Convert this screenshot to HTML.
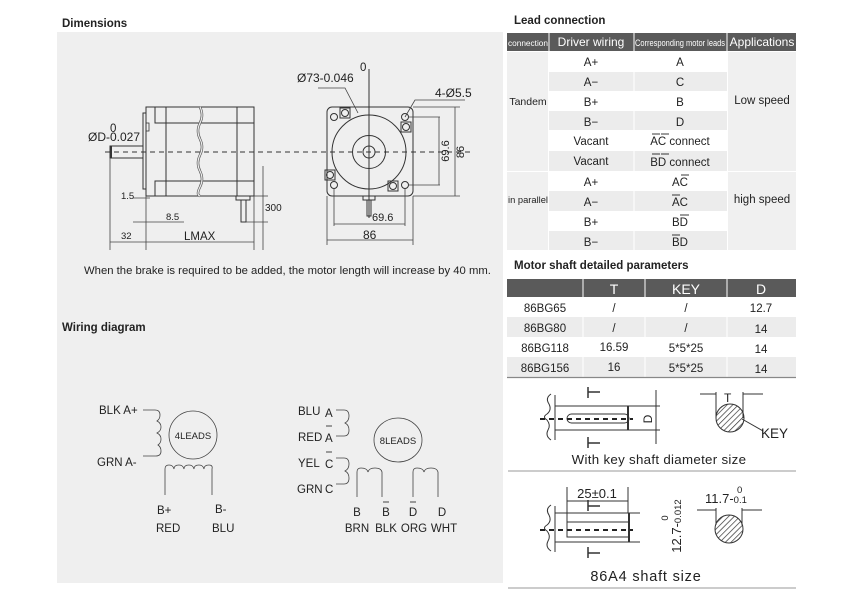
<!DOCTYPE html>
<html><head><meta charset="utf-8"><style>
html,body{margin:0;padding:0;background:#fff;width:864px;height:598px;overflow:hidden}
svg{display:block}
text{font-family:"Liberation Sans",sans-serif;fill:#222}
.b{font-weight:bold}
.l{stroke:#333;stroke-width:1;fill:none}
.t{stroke:#444;stroke-width:0.8;fill:none}
</style></head><body>
<svg width="864" height="598" viewBox="0 0 864 598" xmlns="http://www.w3.org/2000/svg">
<defs>
<pattern id="h" width="4" height="4" patternUnits="userSpaceOnUse" patternTransform="rotate(45)"><line x1="0" y1="0" x2="0" y2="4" stroke="#333" stroke-width="1.4"/></pattern>
</defs>
<rect x="57" y="32" width="446" height="551" fill="#efefef"/>
<text x="62" y="27" font-size="11.5" class="b">Dimensions</text>
<text x="62" y="331" font-size="11.5" class="b">Wiring diagram</text>
<text x="84" y="274" font-size="11.3">When the brake is required to be added, the motor length will increase by 40 mm.</text>

<g class="l">
<rect x="146" y="107" width="108" height="89"/>
<rect x="143" y="113" width="3" height="76"/>
<rect x="110" y="146" width="33" height="12"/>
<line x1="111" y1="146" x2="111" y2="158" stroke-width="2"/>
<path d="M155 107V123H254M155 196V181H254"/>
<line x1="166" y1="107" x2="166" y2="196"/>
<line x1="237" y1="107" x2="237" y2="196"/>
<path d="M200 107 q4 8 0 16 q-4 8 0 16 q4 8 0 16 q-4 8 0 16 q4 8 0 16 q-4 8 0 9" stroke-width="2.5" stroke="#555"/>
<path d="M200 107 q4 8 0 16 q-4 8 0 16 q4 8 0 16 q-4 8 0 16 q4 8 0 16 q-4 8 0 9" stroke-width="1.2" stroke="#efefef"/>
<rect x="146" y="123" width="3" height="8" stroke-width="0.8"/>
<rect x="236" y="196" width="14" height="4"/>
<rect x="241" y="200" width="5" height="22"/>
<line x1="110" y1="158" x2="110" y2="250" class="t"/>
<line x1="146" y1="196" x2="146" y2="250" class="t"/>
<line x1="254" y1="196" x2="254" y2="250" class="t"/>
<line x1="110" y1="242" x2="254" y2="242" class="t"/>
<line x1="263" y1="166" x2="263" y2="250" class="t"/>
<line x1="246" y1="222" x2="268" y2="222" class="t"/>
<line x1="254" y1="196" x2="268" y2="196" class="t"/>
<line x1="133" y1="198" x2="150" y2="198" class="t"/>
<line x1="133" y1="222" x2="184" y2="222" class="t"/>
</g>
<text x="121" y="199" font-size="9.5">1.5</text>
<text x="166" y="220" font-size="9.5">8.5</text>
<text x="265" y="211" font-size="10">300</text>
<text x="121" y="239" font-size="9.5">32</text>
<text x="184" y="240" font-size="11.5">LMAX</text>
<text x="110" y="132" font-size="11.5">0</text>
<text x="88" y="141" font-size="12">ØD-0.027</text>
<line x1="105" y1="152" x2="470" y2="152" stroke="#333" stroke-dasharray="5,4"/>

<g class="l">
<rect x="327" y="107" width="86" height="89" rx="5"/>
<circle cx="369" cy="152" r="37"/>
<circle cx="369" cy="152" r="16.5"/>
<circle cx="369" cy="152" r="6"/>
<line x1="369" y1="69" x2="369" y2="218"/>
<circle cx="334" cy="117" r="3.5"/><circle cx="405" cy="117" r="3.5"/>
<circle cx="334" cy="185" r="3.5"/><circle cx="405" cy="185" r="3.5"/>
<rect x="340" y="108" width="10" height="10"/><circle cx="345" cy="113" r="3.5"/>
<rect x="401" y="122" width="10" height="10"/><circle cx="406" cy="127" r="3.5"/>
<rect x="325" y="170" width="10" height="10"/><circle cx="330" cy="175" r="3.5"/>
<rect x="388" y="181" width="10" height="10"/><circle cx="393" cy="186" r="3.5"/>
<rect x="363" y="196" width="12" height="4"/>
<rect x="367" y="200" width="4" height="16"/>
<path d="M318 88H345L358 113" class="t"/>
<path d="M405 117L415 100H465" class="t"/>
<path d="M413 107H460M413 196H460M455 107V196" class="t"/>
<path d="M409 117H440M409 185H440M439 117V185" class="t"/>
<path d="M334 189V226M405 189V226M334 224H405" class="t"/>
<path d="M327 196V245M413 196V245M327 240H413" class="t"/>
</g>
<text x="360" y="71" font-size="11.5">0</text>
<text x="297" y="82" font-size="12">Ø73-0.046</text>
<text x="435" y="97" font-size="12">4-Ø5.5</text>
<text x="372" y="221" font-size="11">69.6</text>
<text x="363" y="239" font-size="12">86</text>
<text transform="translate(464,152) rotate(-90)" font-size="11" text-anchor="middle">86</text>
<text transform="translate(449,151) rotate(-90)" font-size="11" text-anchor="middle">69.6</text>

<!-- 4 leads -->
<g class="t" stroke-width="1">
<circle cx="193" cy="435" r="24"/>
<path d="M143 410H155q5 0 5 5q0 4-3 6q4 2 4 6q0 4-4 6q4 2 4 6q0 4-3 6q3 2 3 6q0 5-5 5H143"/>
<path d="M165 496V470q0-4 4-4q4 0 5 4q0-4 5-4q4 0 5 4q0-4 5-4q4 0 5 4q0-4 5-4q4 0 5 4q0-4 5-4q4 0 3 4V496" transform="translate(0,-1)"/>
</g>
<text x="193" y="439" font-size="9.5" text-anchor="middle" fill="#333">4LEADS</text>
<text x="99" y="414" font-size="11.5">BLK A+</text>
<text x="97" y="466" font-size="11.5">GRN A-</text>
<text x="157" y="514" font-size="11.5">B+</text>
<text x="156" y="532" font-size="11.5">RED</text>
<text x="215" y="513" font-size="11.5">B-</text>
<text x="212" y="532" font-size="11.5">BLU</text>

<!-- 8 leads -->
<g class="t" stroke-width="1">
<ellipse cx="398" cy="440" rx="24" ry="22"/>
<path d="M336 410H344q5 0 5 6q0 5-4 7q4 2 4 7q0 6-5 6H336"/>
<path d="M336 458H344q5 0 5 6q0 5-4 7q4 2 4 7q0 6-5 6H336"/>
<path d="M357 497V472q0-4 4-4q6 0 7 4q1-4 7-4q6 0 7 4V497"/>
<path d="M413 497V472q0-4 4-4q6 0 7 4q1-4 7-4q6 0 7 4V497"/>
<path d="M326 426h6M326 452h6M383 502h6M410 502h6" stroke-width="1"/>
</g>
<text x="398" y="444" font-size="9.5" text-anchor="middle" fill="#333">8LEADS</text>
<g font-size="11.5">
<text x="298" y="415">BLU</text><text x="325" y="417">A</text>
<text x="298" y="441">RED</text><text x="325" y="442">A</text>
<text x="298" y="467">YEL</text><text x="325" y="468">C</text>
<text x="297" y="493">GRN</text><text x="325" y="493">C</text>
</g>
<g font-size="11.5" text-anchor="middle">
<text x="357" y="516">B</text>
<text x="386" y="516">B</text>
<text x="413" y="516">D</text>
<text x="442" y="516">D</text>
<text x="357" y="532">BRN</text>
<text x="386" y="532">BLK</text>
<text x="414" y="532">ORG</text>
<text x="444" y="532">WHT</text>
</g>

<!-- Lead connection table -->
<text x="514" y="24" font-size="11.5" class="b">Lead connection</text>
<rect x="507" y="33" width="289" height="18" fill="#5a5a5a"/>
<g stroke="#fff" stroke-width="1"><line x1="549" y1="33" x2="549" y2="51"/><line x1="634" y1="33" x2="634" y2="51"/><line x1="727" y1="33" x2="727" y2="51"/></g>
<text x="528" y="46" font-size="8.5" style="fill:#fff" text-anchor="middle" textLength="40" lengthAdjust="spacingAndGlyphs">connection</text>
<text x="591" y="46" font-size="12" style="fill:#fff" text-anchor="middle">Driver wiring</text>
<text x="680" y="46" font-size="9" style="fill:#fff" text-anchor="middle" textLength="90" lengthAdjust="spacingAndGlyphs">Corresponding motor leads</text>
<text x="762" y="46" font-size="12" style="fill:#fff" text-anchor="middle">Applications</text>
<rect x="507" y="52" width="41" height="119" fill="#f0f0f0"/>
<rect x="507" y="172" width="41" height="78" fill="#f0f0f0"/>
<rect x="728" y="52" width="68" height="119" fill="#f0f0f0"/>
<rect x="728" y="172" width="68" height="78" fill="#f0f0f0"/>
<g fill="#ececec">
<rect x="549" y="72" width="178" height="19"/>
<rect x="549" y="111" width="178" height="19"/>
<rect x="549" y="151" width="178" height="20"/>
<rect x="549" y="191" width="178" height="20"/>
<rect x="549" y="231" width="178" height="19"/>
</g>
<line x1="634" y1="52" x2="634" y2="250" stroke="#fff"/>
<g font-size="11.5" text-anchor="middle">
<text x="591" y="66">A+</text><text x="680" y="66">A</text>
<text x="591" y="86">A−</text><text x="680" y="86">C</text>
<text x="591" y="106">B+</text><text x="680" y="106">B</text>
<text x="591" y="126">B−</text><text x="680" y="126">D</text>
<text x="591" y="145">Vacant</text><text x="680" y="145">AC connect</text>
<text x="591" y="165">Vacant</text><text x="680" y="166">BD connect</text>
<text x="591" y="186">A+</text><text x="680" y="186">AC</text>
<text x="591" y="206">A−</text><text x="680" y="206">AC</text>
<text x="591" y="226">B+</text><text x="680" y="226">BD</text>
<text x="591" y="246">B−</text><text x="680" y="246">BD</text>
<text x="528" y="105" font-size="10.5">Tandem</text>
<text x="528" y="203" font-size="9" textLength="40" lengthAdjust="spacingAndGlyphs">in parallel</text>
<text x="762" y="104">Low speed</text>
<text x="762" y="203">high speed</text>
</g>
<g stroke="#222" stroke-width="0.9">
<line x1="652" y1="134" x2="660" y2="134"/><line x1="661" y1="134" x2="669" y2="134"/>
<line x1="652" y1="154" x2="660" y2="154"/><line x1="661" y1="154" x2="669" y2="154"/>
<line x1="681" y1="175" x2="689" y2="175"/>
<line x1="672" y1="195" x2="680" y2="195"/>
<line x1="680" y1="215" x2="689" y2="215"/>
<line x1="672" y1="235" x2="680" y2="235"/>
</g>

<!-- shaft table -->
<text x="514" y="269" font-size="11.5" class="b">Motor shaft detailed parameters</text>
<rect x="507" y="279" width="289" height="18" fill="#5a5a5a"/>
<g stroke="#fff"><line x1="583" y1="279" x2="583" y2="297"/><line x1="645" y1="279" x2="645" y2="297"/><line x1="727" y1="279" x2="727" y2="297"/></g>
<g font-size="14" text-anchor="middle">
<text x="614" y="294" style="fill:#fff">T</text><text x="686" y="294" style="fill:#fff">KEY</text><text x="761" y="294" style="fill:#fff">D</text></g>
<rect x="507" y="317" width="289" height="20" fill="#ececec"/>
<rect x="507" y="357" width="289" height="20" fill="#ececec"/>
<g stroke="#fff"><line x1="583" y1="297" x2="583" y2="377"/><line x1="645" y1="297" x2="645" y2="377"/><line x1="727" y1="297" x2="727" y2="377"/></g>
<line x1="507" y1="377.5" x2="796" y2="377.5" stroke="#888" stroke-width="1.2"/>
<g font-size="11.5" text-anchor="middle">
<text x="545" y="312">86BG65</text><text x="614" y="312">/</text><text x="686" y="312">/</text><text x="761" y="312">12.7</text>
<text x="545" y="332">86BG80</text><text x="614" y="332">/</text><text x="686" y="332">/</text><text x="761" y="333">14</text>
<text x="545" y="352">86BG118</text><text x="614" y="351">16.59</text><text x="686" y="352">5*5*25</text><text x="761" y="353">14</text>
<text x="545" y="372">86BG156</text><text x="614" y="371">16</text><text x="686" y="372">5*5*25</text><text x="761" y="373">14</text>
</g>

<!-- key shaft drawing -->
<g class="l">
<path d="M551 394q-6 4-2 10q3 6-2 10q-5 3 0 6q4 5 1 10q-3 6 3 10" />
<line x1="555" y1="395" x2="555" y2="440"/>
<path d="M555 406H660M555 430H660M628 406V430" />
<line x1="628" y1="406" x2="628" y2="430" stroke-width="2"/>
<rect x="567" y="414" width="62" height="9" rx="4.5"/>
<line x1="656" y1="390" x2="656" y2="444"/>
<path d="M588 387V398M588 392H600M588 437V448M588 443H600" stroke-width="1.5"/>
<circle cx="730" cy="418" r="14" fill="url(#h)"/>
<path d="M716 392V418M743 392V418M700 394H716M743 394H763"/>
<path d="M742 419L763 431"/>
</g>
<line x1="540" y1="419" x2="633" y2="419" stroke="#222" stroke-width="2" stroke-dasharray="5,4"/>
<text transform="translate(652,419) rotate(-90)" font-size="12" text-anchor="middle">D</text>
<text x="724" y="402" font-size="12">T</text>
<text x="761" y="438" font-size="13.5">KEY</text>
<text x="659" y="464" font-size="13.3" text-anchor="middle" letter-spacing="0.3">With key shaft diameter size</text>
<line x1="508" y1="471" x2="796" y2="471" stroke="#999"/>

<!-- 86A4 shaft -->
<g class="l">
<path d="M551 505q-6 4-2 10q3 6-2 10q-5 3 0 6q4 5 1 10q-3 6 3 10"/>
<line x1="555" y1="506" x2="555" y2="552"/>
<path d="M555 513H640M555 542H640"/>
<line x1="629" y1="513" x2="629" y2="542" stroke-width="2"/>
<rect x="567" y="522" width="62" height="15"/>
<path d="M567 487V525M628 487V513M567 501H628"/>
<path d="M588 500V511M588 506H600M588 547V558M588 553H600" stroke-width="1.5"/>
<circle cx="729" cy="529" r="14" fill="url(#h)"/>
<path d="M716 508V525M742 508V525M697 510H716M742 510H762"/>
</g>
<line x1="540" y1="530" x2="633" y2="530" stroke="#222" stroke-width="2" stroke-dasharray="5,4"/>
<text x="597" y="498" font-size="13" text-anchor="middle">25±0.1</text>
<text transform="translate(681,526) rotate(-90)" font-size="13" text-anchor="middle">12.7-<tspan font-size="9.5">0.012</tspan></text>
<text transform="translate(668,518) rotate(-90)" font-size="9.5" text-anchor="middle">0</text>
<text x="705" y="503" font-size="13">11.7-<tspan font-size="9.5">0.1</tspan></text>
<text x="737" y="493" font-size="9.5">0</text>
<text x="646" y="581" font-size="14.5" text-anchor="middle" letter-spacing="0.8">86A4 shaft size</text>
<line x1="508" y1="588" x2="796" y2="588" stroke="#999"/>
</svg>
</body></html>
